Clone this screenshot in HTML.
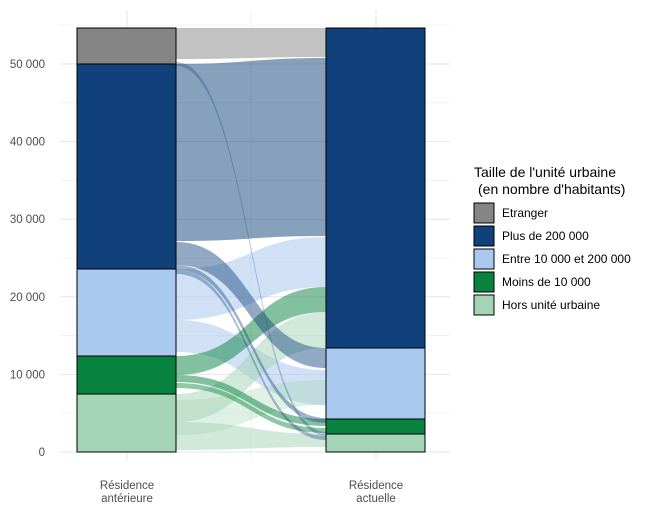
<!DOCTYPE html>
<html><head><meta charset="utf-8"><style>body{margin:0;background:#fff}svg{display:block;font-family:"Liberation Sans",Arial,sans-serif}</style></head><body>
<svg width="650" height="511" viewBox="0 0 650 511">
<g stroke="#ebebeb" stroke-width="0.6">
<line x1="60" x2="450" y1="413" y2="413"/><line x1="60" x2="450" y1="335.6" y2="335.6"/><line x1="60" x2="450" y1="258" y2="258"/><line x1="60" x2="450" y1="180.4" y2="180.4"/><line x1="60" x2="450" y1="102.8" y2="102.8"/><line x1="60" x2="450" y1="25" y2="25"/>
</g>
<g stroke="#e6e6e6" stroke-width="1">
<line x1="60" x2="450" y1="452" y2="452"/><line x1="60" x2="450" y1="374.4" y2="374.4"/><line x1="60" x2="450" y1="296.8" y2="296.8"/><line x1="60" x2="450" y1="219.2" y2="219.2"/><line x1="60" x2="450" y1="141.6" y2="141.6"/><line x1="60" x2="450" y1="64" y2="64"/>
<line x1="127" x2="127" y1="10" y2="460"/><line x1="376" x2="376" y1="10" y2="460"/><line x1="251" x2="251" y1="10" y2="460" stroke-width="0.6"/>
</g>
<g stroke="none">
<path d="M176,28 C251,28 251,28 326,28 L326,57 C251,57 251,59 176,59Z" fill="#c2c2c2"/>
<path d="M176,64 C251,64 251,58 326,58 L326,236 C251,236 251,241 176,241Z" fill="#10417a" fill-opacity="0.5"/>
<path d="M176,269 C251,269 251,237 326,237 L326,287 C251,287 251,320 176,320Z" fill="#aac9ef" fill-opacity="0.55"/>
<path d="M176,320 C251,320 251,370 326,370 L326,405 C251,405 251,352 176,352Z" fill="#aac9ef" fill-opacity="0.55"/>
<path d="M176,394 C251,394 251,312 326,312 L326,348 C251,348 251,422 176,422Z" fill="#a3d4b5" fill-opacity="0.5"/>
<path d="M176,422 C251,422 251,434 326,434 L326,447 C251,447 251,450 176,450Z" fill="#a3d4b5" fill-opacity="0.5"/>
<path d="M176,400 C251,400 251,380 326,380 L326,405 C251,405 251,435 176,435Z" fill="#a3d4b5" fill-opacity="0.35"/>
<path d="M176,356 C251,356 251,287 326,287 L326,312 C251,312 251,375 176,375Z" fill="#08823f" fill-opacity="0.5"/>
<path d="M176,375 C251,375 251,419 326,419 L326,426 C251,426 251,382 176,382Z" fill="#08823f" fill-opacity="0.5"/>
<path d="M176,383 C251,383 251,428 326,428 L326,433 C251,433 251,388 176,388Z" fill="#08823f" fill-opacity="0.45"/>
<path d="M176,242 C251,242 251,348 326,348 L326,368 C251,368 251,265 176,265Z" fill="#10417a" fill-opacity="0.45"/>
<path d="M176,265 C251,265 251,418 326,418 L326,423 C251,423 251,270 176,270Z" fill="#10417a" fill-opacity="0.4"/>
<path d="M176,62 C251,62 251,432 326,432 L326,436 C251,436 251,66 176,66Z" fill="#10417a" fill-opacity="0.3"/>
<path d="M176,270 C251,270 251,436 326,436 L326,440 C251,440 251,274 176,274Z" fill="#10417a" fill-opacity="0.35"/>
</g>
<g stroke="#000" stroke-width="1">
<rect x="77" y="28" width="99" height="36" fill="#858585"/>
<rect x="77" y="64" width="99" height="205" fill="#10417a"/>
<rect x="77" y="269" width="99" height="87" fill="#aac9ef"/>
<rect x="77" y="356" width="99" height="38" fill="#08823f"/>
<rect x="77" y="394" width="99" height="58" fill="#a3d4b5"/>
<rect x="326" y="28" width="99" height="320" fill="#10417a"/>
<rect x="326" y="348" width="99" height="71" fill="#aac9ef"/>
<rect x="326" y="419" width="99" height="15" fill="#08823f"/>
<rect x="326" y="434" width="99" height="18" fill="#a3d4b5"/>
</g>
<g font-size="11.5" fill="#4d4d4d" text-anchor="end">
<text x="45" y="456">0</text><text x="45" y="378.4">10 000</text><text x="45" y="300.8">20 000</text><text x="45" y="223.2">30 000</text><text x="45" y="145.6">40 000</text><text x="45" y="68">50 000</text>
</g>
<g font-size="11.5" fill="#4d4d4d" text-anchor="middle">
<text x="127" y="489">Résidence</text><text x="127" y="502">antérieure</text>
<text x="376" y="489">Résidence</text><text x="376" y="502">actuelle</text>
</g>
<text x="474" y="177" font-size="14" fill="#000">Taille de l'unité urbaine</text>
<text x="478" y="194" font-size="14" fill="#000">(en nombre d'habitants)</text>
<g stroke="#000" stroke-width="1">
<rect x="474" y="203" width="20" height="20" fill="#858585"/>
<rect x="474" y="226" width="20" height="20" fill="#10417a"/>
<rect x="474" y="249" width="20" height="20" fill="#aac9ef"/>
<rect x="474" y="272" width="20" height="20" fill="#08823f"/>
<rect x="474" y="295" width="20" height="20" fill="#a3d4b5"/>
</g>
<g font-size="12" fill="#000">
<text x="502" y="217">Etranger</text><text x="502" y="240">Plus de 200 000</text><text x="502" y="263">Entre 10 000 et 200 000</text><text x="502" y="286">Moins de 10 000</text><text x="502" y="309">Hors unité urbaine</text>
</g>
</svg>
</body></html>
